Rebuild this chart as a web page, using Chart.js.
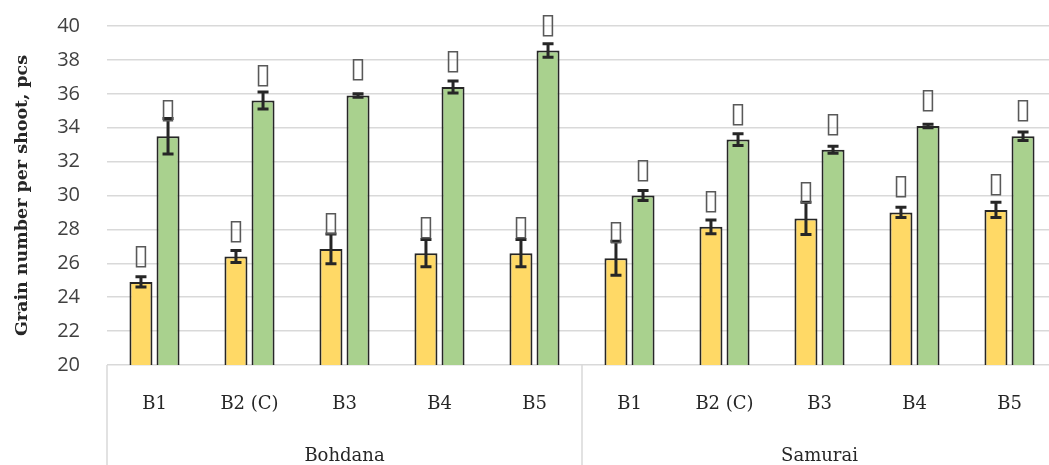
<!DOCTYPE html>
<html>
<head>
<meta charset="utf-8">
<script src="https://cdn.jsdelivr.net/npm/chart.js@4.4.0/dist/chart.umd.min.js"></script>
<style>
  html, body { margin: 0; padding: 0; overflow: hidden; background: #fff; }
  #wrap { position: absolute; left: 0; top: -13px; width: 1057px; height: 478px; }
</style>
</head>
<body>
<div id="wrap"><canvas id="chart"></canvas></div>
<script>
const categories = ['B1', 'B2 (C)', 'B3', 'B4', 'B5', 'B1', 'B2 (C)', 'B3', 'B4', 'B5'];
const groups = ['Bohdana', 'Samurai'];
const yellowValues = [24.9, 26.4, 26.85, 26.6, 26.6, 26.3, 28.15, 28.65, 29.0, 29.15];
const yellowErrors = [0.3, 0.35, 0.88, 0.8, 0.8, 1.0, 0.4, 0.95, 0.3, 0.45];
const greenValues = [33.5, 35.6, 35.9, 36.4, 38.55, 30.0, 33.3, 32.7, 34.1, 33.5];
const greenErrors = [1.05, 0.5, 0.1, 0.35, 0.4, 0.3, 0.35, 0.2, 0.1, 0.25];
const errorSets = [yellowErrors, greenErrors];

const extras = {
    id: 'extras',
    afterDatasetsDraw(chart) {
        const ctx = chart.ctx;
        const y = chart.scales.y;
        ctx.save();
        chart.data.datasets.forEach((ds, di) => {
            const meta = chart.getDatasetMeta(di);
            meta.data.forEach((bar, i) => {
                const top = y.getPixelForValue(ds.data[i] + errorSets[di][i]);
                const bot = y.getPixelForValue(ds.data[i] - errorSets[di][i]);
                ctx.strokeStyle = '#262626';
                ctx.lineWidth = 3;
                ctx.beginPath();
                ctx.moveTo(bar.x, top); ctx.lineTo(bar.x, bot);
                ctx.moveTo(bar.x - 5.5, top); ctx.lineTo(bar.x + 5.5, top);
                ctx.moveTo(bar.x - 5.5, bot); ctx.lineTo(bar.x + 5.5, bot);
                ctx.stroke();
                // significance letters (shown as box glyphs in the source)
                ctx.fillStyle = '#595959';
                ctx.font = '28px "DejaVu Sans"';
                ctx.textAlign = 'center';
                ctx.textBaseline = 'alphabetic';
                ctx.fillText('\u25AF', bar.x, bar.y - 18);
            });
        });
        ctx.restore();
    },
    afterDraw(chart) {
        const ctx = chart.ctx;
        const x = chart.scales.x;
        const mid = (x.getPixelForTick(4) + x.getPixelForTick(5)) / 2;
        ctx.save();
        ctx.strokeStyle = '#d9d9d9';
        ctx.lineWidth = 1.5;
        ctx.beginPath();
        [x.left, mid, x.right].forEach(px => {
            ctx.moveTo(px, chart.chartArea.bottom);
            ctx.lineTo(px, chart.height);
        });
        ctx.stroke();
        ctx.restore();
    }
};

new Chart(document.getElementById('chart'), {
    type: 'bar',
    data: {
        labels: categories,
        datasets: [{
            data: yellowValues,
            backgroundColor: '#ffd966',
            borderColor: '#262626',
            borderWidth: 2,
            categoryPercentage: 0.57,
            barPercentage: 0.85
        }, {
            data: greenValues,
            backgroundColor: '#a9d18e',
            borderColor: '#262626',
            borderWidth: 2,
            categoryPercentage: 0.57,
            barPercentage: 0.85
        }]
    },
    options: {
        responsive: true,
        maintainAspectRatio: false,
        animation: false,
        layout: { padding: { top: 1, left: 0, right: 0, bottom: 0 } },
        plugins: { legend: { display: false }, tooltip: { enabled: false } },
        scales: {
            y: {
                min: 20,
                max: 40,
                ticks: { stepSize: 2, padding: 27, color: '#404040', font: { family: 'Open Sans', size: 20 } },
                grid: { color: '#d9d9d9', lineWidth: 1.5, drawTicks: false },
                border: { display: false },
                title: {
                    display: true,
                    text: 'Grain number per shoot, pcs',
                    color: '#262626',
                    font: { family: 'DejaVu Serif', size: 17.5, weight: 'bold' },
                    padding: { top: 12, bottom: 0 }
                },
                afterFit(scale) { scale.width = 107; }
            },
            x: {
                ticks: { padding: 29, color: '#262626', font: { family: 'DejaVu Serif', size: 18 } },
                grid: { display: false, drawTicks: false },
                border: { display: false },
                afterFit(scale) { scale.height = 60; }
            },
            x2: {
                type: 'category',
                position: 'bottom',
                labels: groups,
                ticks: { padding: 21, color: '#262626', font: { family: 'DejaVu Serif', size: 18 } },
                grid: { display: false, drawTicks: false },
                border: { display: false },
                afterFit(scale) { scale.height = 40; }
            }
        }
    },
    plugins: [extras]
});
</script>
</body>
</html>
